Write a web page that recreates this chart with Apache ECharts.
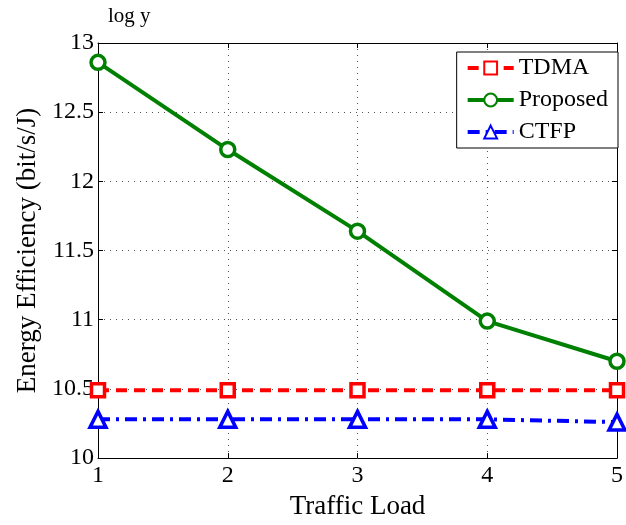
<!DOCTYPE html>
<html>
<head>
<meta charset="utf-8">
<script src="https://cdn.jsdelivr.net/npm/echarts@6/dist/echarts.min.js"></script>
<style>
  html, body { margin: 0; padding: 0; background: #fff; }
  #chart { width: 626px; height: 525px; }
</style>
</head>
<body>
<div id="chart"></div>
<script>
'use strict';

// data
var loads = [1, 2, 3, 4, 5];
var tdma = [10.49, 10.49, 10.49, 10.49, 10.49];
var proposed = [12.86, 12.23, 11.64, 10.99, 10.70];
var ctfp = [10.28, 10.28, 10.28, 10.28, 10.26];

var font = '"Liberation Serif", "Times New Roman", serif';

function pairs(ys) {
    return ys.map(function (y, i) { return [loads[i], y]; });
}

var myChart = echarts.init(document.getElementById('chart'));

var boxAxis = {
    axisLine: {show: true, lineStyle: {color: '#000', width: 1}},
    axisTick: {show: true, inside: true, length: 5, lineStyle: {color: '#000'}},
    axisLabel: {show: false},
    splitLine: {show: false}
};

var option = {
    backgroundColor: '#fff',
    animation: false,
    textStyle: {fontFamily: font, color: '#000'},
    grid: {left: 98, right: 3, top: 43, bottom: 59},
    graphic: [{
        type: 'text', left: 108, top: 6,
        style: {text: 'log y', fontFamily: font, fontSize: 21, fill: '#000'}
    }],
    legend: {
        right: 8, top: 52,
        orient: 'vertical',
        backgroundColor: '#fff',
        borderColor: '#000',
        borderWidth: 1,
        borderRadius: 0,
        padding: [4, 10, 4, 9],
        itemGap: 8,
        itemWidth: 46,
        itemHeight: 16,
        lineStyle: {width: 4},
        textStyle: {fontFamily: font, fontSize: 24, color: '#000'},
        data: ['TDMA', 'Proposed', 'CTFP']
    },
    xAxis: [{
        type: 'value', min: 1, max: 5, interval: 1,
        name: 'Traffic Load', nameLocation: 'middle', nameGap: 32,
        nameTextStyle: {fontFamily: font, fontSize: 27, color: '#000'},
        axisLine: {show: true, lineStyle: {color: '#000', width: 1}},
        axisTick: {show: true, inside: true, length: 5, lineStyle: {color: '#000'}},
        axisLabel: {fontFamily: font, fontSize: 24, color: '#000', margin: 6},
        splitLine: {show: true, lineStyle: {color: '#555', type: [1, 5], width: 1}}
    }, Object.assign({type: 'value', min: 1, max: 5, interval: 1, position: 'top'}, boxAxis)],
    yAxis: [{
        type: 'value', min: 10, max: 13, interval: 0.5,
        name: 'Energy Efficiency (bit/s/J)', nameLocation: 'middle', nameGap: 56,
        nameTextStyle: {fontFamily: font, fontSize: 27, color: '#000'},
        axisLine: {show: true, lineStyle: {color: '#000', width: 1}},
        axisTick: {show: true, inside: true, length: 5, lineStyle: {color: '#000'}},
        axisLabel: {fontFamily: font, fontSize: 24, color: '#000', margin: 4},
        splitLine: {show: true, lineStyle: {color: '#555', type: [1, 5], width: 1}}
    }, Object.assign({type: 'value', min: 10, max: 13, interval: 0.5, position: 'right'}, boxAxis)],
    series: [
        {
            name: 'TDMA', type: 'line', data: pairs(tdma),
            symbol: 'rect', symbolSize: 13, clip: false,
            lineStyle: {color: '#ff0000', width: 4, type: [11, 7]},
            itemStyle: {color: '#fff', borderColor: '#ff0000', borderWidth: 3.5}
        },
        {
            name: 'Proposed', type: 'line', data: pairs(proposed),
            symbol: 'circle', symbolSize: 14, clip: false,
            lineStyle: {color: '#008000', width: 4},
            itemStyle: {color: '#fff', borderColor: '#008000', borderWidth: 3.5}
        },
        {
            name: 'CTFP', type: 'line', data: pairs(ctfp),
            symbol: 'triangle', symbolSize: 16, clip: false,
            lineStyle: {color: '#0000ff', width: 4, type: [12, 6, 3, 6]},
            itemStyle: {color: '#fff', borderColor: '#0000ff', borderWidth: 3.5}
        }
    ]
};

myChart.setOption(option);
</script>
</body>
</html>
